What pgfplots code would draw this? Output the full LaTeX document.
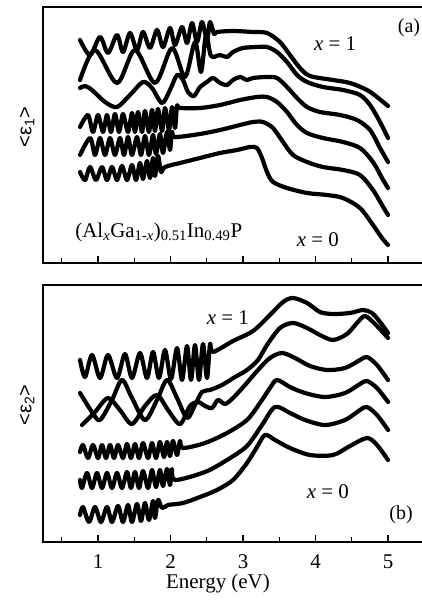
\documentclass[border=0pt]{standalone}
\usepackage{fontspec}
\setmainfont{Liberation Serif}
\newfontfamily\lsans{Liberation Sans}
\usepackage{pgfplots}
\pgfplotsset{compat=1.18}
\begin{document}
\begin{tikzpicture}
\useasboundingbox (0,0) rectangle (422bp,606bp);
\pgfplotsset{
 curve/.style={black, line width=4.2bp, smooth, tension=0.5, mark=none, line join=round, line cap=round},
 panel/.style={
  at={(43bp,#1)}, anchor=south west, scale only axis,
  width=381.25bp, xmin=0.2414, xmax=5.5, ymin=0,
  axis line style={line width=2bp},
  xtick={1,2,3,4,5}, minor xtick={0.5,1.5,2.5,3.5,4.5},
  xtick pos=bottom, ytick=\empty, tick align=inside,
  major tick length=7bp, minor tick length=5bp,
  tick style={black, line width=1.3bp},
  clip=false,
 }
}
% ---------------- panel (a) ----------------
\begin{axis}[panel=343bp, height=256bp, ymax=256, xticklabels={}]
\addplot[curve] coordinates {(0.752,223) (0.890,208) (1.028,226) (1.138,210) (1.262,228) (1.345,211) (1.441,230) (1.538,213) (1.621,231) (1.717,215) (1.814,233) (1.897,216) (1.993,235) (2.062,218) (2.159,236) (2.228,220) (2.297,240) (2.366,221) (2.434,241) (2.503,223) (2.545,241) (2.600,229) (2.641,231) (2.862,232) (3.138,231) (3.331,230) (3.510,221) (3.648,208) (3.786,195) (3.924,187) (4.241,183) (4.476,180) (4.710,173) (4.848,166) (5.000,157)};
\addplot[curve] coordinates {(0.752,183) (0.959,213) (1.262,180) (1.510,213) (1.786,180) (2.021,215) (2.200,186) (2.338,221) (2.421,191) (2.490,228) (2.559,207) (2.683,208) (2.779,206) (2.862,211) (3.000,215) (3.193,216) (3.331,216) (3.469,211) (3.607,201) (3.745,188) (3.883,181) (4.103,176) (4.379,173) (4.614,168) (4.752,158) (4.890,141) (5.000,125)};
\addplot[curve] coordinates {(0.752,175) (0.821,177) (0.917,173) (1.097,161) (1.262,156) (1.441,168) (1.621,181) (1.745,175) (1.883,160) (1.993,173) (2.090,188) (2.172,183) (2.241,171) (2.324,167) (2.407,176) (2.503,181) (2.586,185) (2.683,180) (2.779,178) (2.862,183) (2.959,186) (3.055,183) (3.138,185) (3.331,186) (3.469,185) (3.607,176) (3.745,165) (3.883,156) (4.062,151) (4.338,148) (4.572,143) (4.752,133) (4.890,115) (5.000,101)};
\addplot[curve] coordinates {(0.752,136) (0.862,148) (0.931,131) (1.000,148) (1.069,131) (1.124,148) (1.179,131) (1.234,149) (1.290,131) (1.345,149) (1.414,131) (1.469,150) (1.510,131) (1.552,151) (1.607,131) (1.648,152) (1.703,131) (1.745,153) (1.786,132) (1.828,154) (1.883,132) (1.924,155) (1.979,133) (2.021,156) (2.062,135) (2.090,157) (2.131,155) (2.407,155) (2.683,158) (2.959,163) (3.193,166) (3.331,166) (3.469,161) (3.607,151) (3.745,138) (3.883,130) (4.103,125) (4.379,121) (4.614,115) (4.793,101) (4.917,85) (5.000,75)};
\addplot[curve] coordinates {(0.752,108) (0.890,125) (0.959,108) (1.028,125) (1.097,108) (1.166,125) (1.234,108) (1.303,125) (1.359,108) (1.414,126) (1.469,108) (1.538,126) (1.593,108) (1.648,127) (1.703,108) (1.759,128) (1.800,109) (1.855,129) (1.897,110) (1.952,131) (1.993,113) (2.021,131) (2.062,126) (2.407,129) (2.683,133) (2.959,138) (3.138,141) (3.276,141) (3.414,135) (3.552,121) (3.690,108) (3.883,101) (4.103,96) (4.379,93) (4.614,88) (4.793,73) (4.917,58) (5.000,48)};
\addplot[curve] coordinates {(0.752,91) (0.821,83) (0.890,96) (0.972,83) (1.055,96) (1.124,83) (1.193,96) (1.262,83) (1.331,97) (1.400,83) (1.469,98) (1.524,83) (1.579,100) (1.621,84) (1.676,102) (1.717,85) (1.759,105) (1.786,87) (1.828,107) (1.869,91) (1.924,96) (2.131,100) (2.407,105) (2.683,110) (2.917,113) (3.097,116) (3.193,115) (3.262,105) (3.331,91) (3.414,81) (3.607,75) (3.883,70) (4.159,68) (4.379,65) (4.614,55) (4.793,38) (4.917,25) (5.000,18)};
\node[font=\fontsize{20}{20}\selectfont] at (axis cs:5.29,235) {(a)};
\node[font=\fontsize{21}{21}\selectfont] at (axis cs:4.269,219) {\textit{x} = 1};
\node[font=\fontsize{21}{21}\selectfont] at (axis cs:4.034,23) {\textit{x} = 0};
\node[font=\fontsize{21}{21}\selectfont, anchor=west] at (axis cs:0.64,31) {(Al\textsubscript{\textit{x}}Ga\textsubscript{1-\textit{x}})\textsubscript{0.51}In\textsubscript{0.49}P};
\node[rotate=90, font=\lsans\fontsize{20}{20}\selectfont] at (axis cs:0.021,136) {<ε\textsubscript{1}>};
\end{axis}
% ---------------- panel (b) ----------------
\begin{axis}[panel=64bp, height=257bp, ymax=257, xticklabels={1,2,3,4,5},
  xticklabel style={font=\fontsize{21}{21}\selectfont, anchor=base, yshift=-26bp, inner sep=1bp}]
\addplot[curve] coordinates {(0.752,182) (0.821,165) (0.917,187) (1.028,164) (1.138,187) (1.262,164) (1.372,188) (1.469,164) (1.579,189) (1.676,164) (1.759,190) (1.841,164) (1.924,192) (2.007,163) (2.090,194) (2.159,162) (2.228,196) (2.283,162) (2.338,197) (2.393,162) (2.448,198) (2.503,164) (2.545,198) (2.586,190) (2.862,201) (3.138,211) (3.372,227) (3.552,240) (3.690,244) (3.883,239) (4.062,230) (4.241,228) (4.476,229) (4.655,232) (4.779,229) (4.890,220) (5.000,209)};
\addplot[curve] coordinates {(0.752,149) (0.917,130) (1.028,122) (1.193,142) (1.331,162) (1.469,144) (1.648,122) (1.814,142) (1.952,162) (2.090,144) (2.228,124) (2.338,137) (2.434,150) (2.545,152) (2.710,157) (2.890,165) (3.055,172) (3.207,182) (3.331,197) (3.510,214) (3.690,219) (3.883,214) (4.062,207) (4.241,202) (4.434,208) (4.572,219) (4.683,226) (4.821,218) (5.000,204)};
\addplot[curve] coordinates {(0.779,117) (0.959,130) (1.138,144) (1.303,132) (1.469,118) (1.648,136) (1.814,147) (1.966,132) (2.131,118) (2.269,136) (2.379,140) (2.476,136) (2.572,134) (2.655,142) (2.752,138) (2.862,144) (3.028,157) (3.207,172) (3.372,184) (3.538,189) (3.717,184) (3.924,176) (4.159,172) (4.407,174) (4.614,182) (4.710,185) (4.848,177) (5.000,162)};
\addplot[curve] coordinates {(0.752,90) (0.793,97) (0.862,84) (0.931,97) (1.000,84) (1.055,97) (1.110,84) (1.166,97) (1.221,84) (1.276,97) (1.345,84) (1.400,98) (1.455,84) (1.510,98) (1.566,84) (1.621,99) (1.690,84) (1.745,99) (1.800,84) (1.855,100) (1.910,85) (1.952,100) (1.993,86) (2.034,101) (2.090,87) (2.131,101) (2.172,94) (2.476,99) (2.779,109) (3.055,122) (3.234,139) (3.372,154) (3.469,162) (3.648,155) (3.855,149) (4.131,145) (4.407,149) (4.614,158) (4.710,161) (4.848,154) (5.000,140)};
\addplot[curve] coordinates {(0.752,62) (0.779,54) (0.848,69) (0.917,54) (0.986,69) (1.055,54) (1.124,69) (1.193,54) (1.262,69) (1.331,54) (1.400,70) (1.455,54) (1.510,70) (1.566,54) (1.621,71) (1.690,54) (1.745,72) (1.800,55) (1.855,72) (1.897,56) (1.952,73) (1.993,57) (2.021,73) (2.062,62) (2.476,70) (2.779,82) (3.055,96) (3.262,117) (3.441,135) (3.648,129) (3.855,122) (4.131,117) (4.407,122) (4.614,132) (4.710,135) (4.848,127) (5.000,112)};
\addplot[curve] coordinates {(0.752,27) (0.793,35) (0.876,20) (0.959,35) (1.041,20) (1.124,35) (1.193,20) (1.276,36) (1.345,20) (1.414,37) (1.469,20) (1.538,38) (1.593,21) (1.648,39) (1.703,22) (1.759,41) (1.786,24) (1.828,42) (1.883,34) (1.966,37) (2.172,39) (2.407,45) (2.641,52) (2.862,62) (3.055,79) (3.193,95) (3.303,107) (3.441,102) (3.648,94) (3.924,87) (4.241,87) (4.476,96) (4.710,104) (4.848,97) (5.000,82)};
\node[font=\fontsize{21}{21}\selectfont] at (axis cs:2.79,224) {\textit{x} = 1};
\node[font=\fontsize{21}{21}\selectfont] at (axis cs:4.17,50) {\textit{x} = 0};
\node[font=\fontsize{20}{20}\selectfont] at (axis cs:5.18,27) {(b)};
\node[rotate=90, font=\lsans\fontsize{20}{20}\selectfont] at (axis cs:0.021,137) {<ε\textsubscript{2}>};
\node[anchor=base, font=\fontsize{21}{21}\selectfont, inner sep=1bp] at (axis cs:2.655,-46) {Energy (eV)};
\end{axis}
\end{tikzpicture}
\end{document}
